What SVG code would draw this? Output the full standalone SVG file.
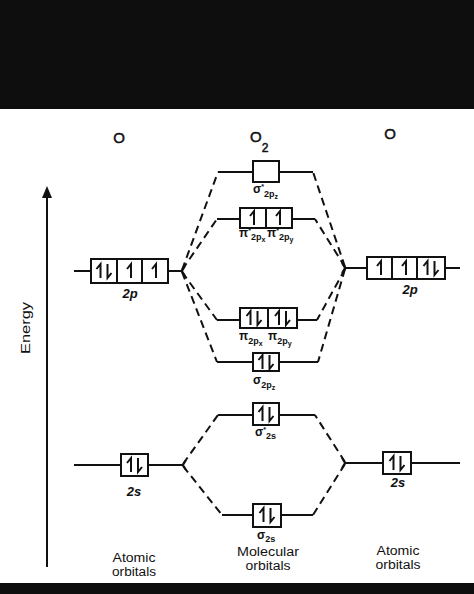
<svg xmlns="http://www.w3.org/2000/svg" width="474" height="594" viewBox="0 0 474 594">
<style>
.bg{fill:#ffffff}
.band{fill:#0e0e0e}
.ln{stroke:#111;stroke-width:2;fill:none}
.bx{stroke:#111;stroke-width:2;fill:#fff}
.dv{stroke:#111;stroke-width:2}
.dash{stroke:#111;stroke-width:2;fill:none;stroke-dasharray:8 5}
.e{stroke:#111;stroke-width:2;fill:none;stroke-linejoin:miter}
.t{font-family:"Liberation Sans",Arial,sans-serif;fill:#111}
.big{font-size:15px;stroke:#111;stroke-width:0.5}
.ao{font-size:13px;font-style:italic;font-weight:bold}
.cap{font-size:12.5px}
.mo{font-size:12px;font-weight:bold}
.s1{font-size:9px;font-weight:bold}
.s2{font-size:7px;font-weight:bold}
</style>
<defs>
<path id="up" class="e" d="M0,7 V-7 l-4,5"/>
<path id="dn" class="e" d="M0,-7 V7 l4,-5"/>
</defs>
<rect class="bg" x="0" y="0" width="474" height="594"/>
<rect class="band" x="0" y="0" width="474" height="109"/>
<rect class="band" x="0" y="583" width="474" height="11"/>

<g id="titles">
<text class="t big" x="119" y="143" text-anchor="middle">O</text>
<text class="t big" x="250" y="142">O<tspan font-size="12" dy="10">2</tspan></text>
<text class="t big" x="390" y="139" text-anchor="middle">O</text>
</g>

<g id="energy-axis">
<line class="ln" x1="47" y1="567" x2="47" y2="196"/>
<path d="M47,186 L42,198 L52,198 Z" fill="#111"/>
<text class="t" font-size="12" transform="translate(30,328) rotate(-90)" text-anchor="middle" textLength="52" lengthAdjust="spacingAndGlyphs">Energy</text>
</g>

<g id="connectors">
<path class="dash" d="M182,270 L218,172"/>
<path class="dash" d="M182,270 L217,219"/>
<path class="dash" d="M182,272 L217,320"/>
<path class="dash" d="M182,272 L217,362"/>
<path class="dash" d="M345,267 L313,172"/>
<path class="dash" d="M345,267 L315,219"/>
<path class="dash" d="M345,269 L317,320"/>
<path class="dash" d="M345,269 L318,362"/>
<path class="dash" d="M183,464 L218,415"/>
<path class="dash" d="M183,466 L222,515"/>
<path class="dash" d="M345,462 L315,415"/>
<path class="dash" d="M345,464 L313,515"/>
</g>

<g id="ao-2p-left">
<path class="ln" d="M74,271 H91 M168,271 H182"/>
<path class="ln" d="M185,266 L182,271 L185,276"/>
<rect class="bx" x="91" y="259" width="77" height="24"/>
<line class="dv" x1="117" y1="259" x2="117" y2="283"/>
<line class="dv" x1="142" y1="259" x2="142" y2="283"/>
<use href="#up" x="100.5" y="271"/><use href="#dn" x="107.5" y="271"/>
<use href="#up" x="131" y="271"/>
<use href="#up" x="156" y="271"/>
<text class="t ao" x="130" y="298" text-anchor="middle">2p</text>
</g>

<g id="ao-2p-right">
<path class="ln" d="M345,268 H367 M445,268 H460"/>
<path class="ln" d="M342,263 L345,268 L342,273"/>
<rect class="bx" x="367" y="257" width="78" height="22"/>
<line class="dv" x1="392" y1="257" x2="392" y2="279"/>
<line class="dv" x1="417" y1="257" x2="417" y2="279"/>
<use href="#up" x="381" y="268"/>
<use href="#up" x="406" y="268"/>
<use href="#up" x="427.5" y="268"/><use href="#dn" x="434.5" y="268"/>
<text class="t ao" x="410" y="294" text-anchor="middle">2p</text>
</g>

<g id="mo-sigma-star-2p">
<path class="ln" d="M218,172 H253 M279,172 H313"/>
<rect class="bx" x="253" y="161" width="26" height="21"/>
<text class="t mo" x="253" y="193">σ<tspan class="s2" dy="-4">*</tspan><tspan class="s1" dy="8">2p</tspan><tspan class="s2" dy="2">z</tspan></text>
</g>

<g id="mo-pi-star-2p">
<path class="ln" d="M217,219 H240 M292,219 H315"/>
<rect class="bx" x="240" y="208" width="52" height="20"/>
<line class="dv" x1="266" y1="208" x2="266" y2="228"/>
<use href="#up" x="254" y="218"/>
<use href="#up" x="280" y="218"/>
<text class="t mo" x="239" y="237">π<tspan class="s2" dy="-4">*</tspan><tspan class="s1" dy="7">2p</tspan><tspan class="s2" dy="2">x</tspan></text>
<text class="t mo" x="267" y="237">π<tspan class="s2" dy="-4">*</tspan><tspan class="s1" dy="7">2p</tspan><tspan class="s2" dy="2">y</tspan></text>
</g>

<g id="mo-pi-2p">
<path class="ln" d="M217,320 H240 M297,320 H317"/>
<rect class="bx" x="240" y="308" width="57" height="20"/>
<line class="dv" x1="268" y1="308" x2="268" y2="328"/>
<use href="#up" x="250.5" y="318"/><use href="#dn" x="257.5" y="318"/>
<use href="#up" x="279" y="318"/><use href="#dn" x="286" y="318"/>
<text class="t mo" x="239" y="340">π<tspan class="s1" dy="4">2p</tspan><tspan class="s2" dy="2">x</tspan></text>
<text class="t mo" x="268" y="340">π<tspan class="s1" dy="4">2p</tspan><tspan class="s2" dy="2">y</tspan></text>
</g>

<g id="mo-sigma-2p">
<path class="ln" d="M217,362 H253 M279,362 H318"/>
<rect class="bx" x="253" y="353" width="26" height="18"/>
<use href="#up" x="262.5" y="362"/><use href="#dn" x="269.5" y="362"/>
<text class="t mo" x="253" y="384">σ<tspan class="s1" dy="4">2p</tspan><tspan class="s2" dy="2">z</tspan></text>
</g>

<g id="mo-sigma-star-2s">
<path class="ln" d="M218,415 H253 M279,415 H315"/>
<rect class="bx" x="253" y="403" width="26" height="22"/>
<use href="#up" x="262.5" y="414"/><use href="#dn" x="269.5" y="414"/>
<text class="t mo" x="255" y="436">σ<tspan class="s2" dy="-4">*</tspan><tspan class="s1" dy="7">2s</tspan></text>
</g>

<g id="ao-2s-left">
<path class="ln" d="M74,465 H121 M148,465 H183"/>
<path class="ln" d="M186,460 L183,465 L186,470"/>
<rect class="bx" x="121" y="454" width="27" height="22"/>
<use href="#up" x="131" y="465"/><use href="#dn" x="138" y="465"/>
<text class="t ao" x="134" y="496" text-anchor="middle">2s</text>
</g>

<g id="ao-2s-right">
<path class="ln" d="M345,463 H383 M411,463 H460"/>
<path class="ln" d="M342,458 L345,463 L342,468"/>
<rect class="bx" x="383" y="452" width="28" height="22"/>
<use href="#up" x="393.5" y="463"/><use href="#dn" x="400.5" y="463"/>
<text class="t ao" x="398" y="487" text-anchor="middle">2s</text>
</g>

<g id="mo-sigma-2s">
<path class="ln" d="M222,515 H253 M281,515 H313"/>
<rect class="bx" x="253" y="504" width="28" height="23"/>
<use href="#up" x="263.5" y="515"/><use href="#dn" x="270.5" y="515"/>
<text class="t mo" x="257" y="539">σ<tspan class="s1" dy="3">2s</tspan></text>
</g>

<g id="bottom-labels">
<text class="t cap" x="134" y="562" text-anchor="middle" textLength="43" lengthAdjust="spacingAndGlyphs">Atomic</text>
<text class="t cap" x="134" y="576" text-anchor="middle" textLength="44" lengthAdjust="spacingAndGlyphs">orbitals</text>
<text class="t cap" x="268" y="556" text-anchor="middle" textLength="62" lengthAdjust="spacingAndGlyphs">Molecular</text>
<text class="t cap" x="268" y="570" text-anchor="middle" textLength="45" lengthAdjust="spacingAndGlyphs">orbitals</text>
<text class="t cap" x="398" y="555" text-anchor="middle" textLength="43" lengthAdjust="spacingAndGlyphs">Atomic</text>
<text class="t cap" x="398" y="569" text-anchor="middle" textLength="45" lengthAdjust="spacingAndGlyphs">orbitals</text>
</g>
</svg>
